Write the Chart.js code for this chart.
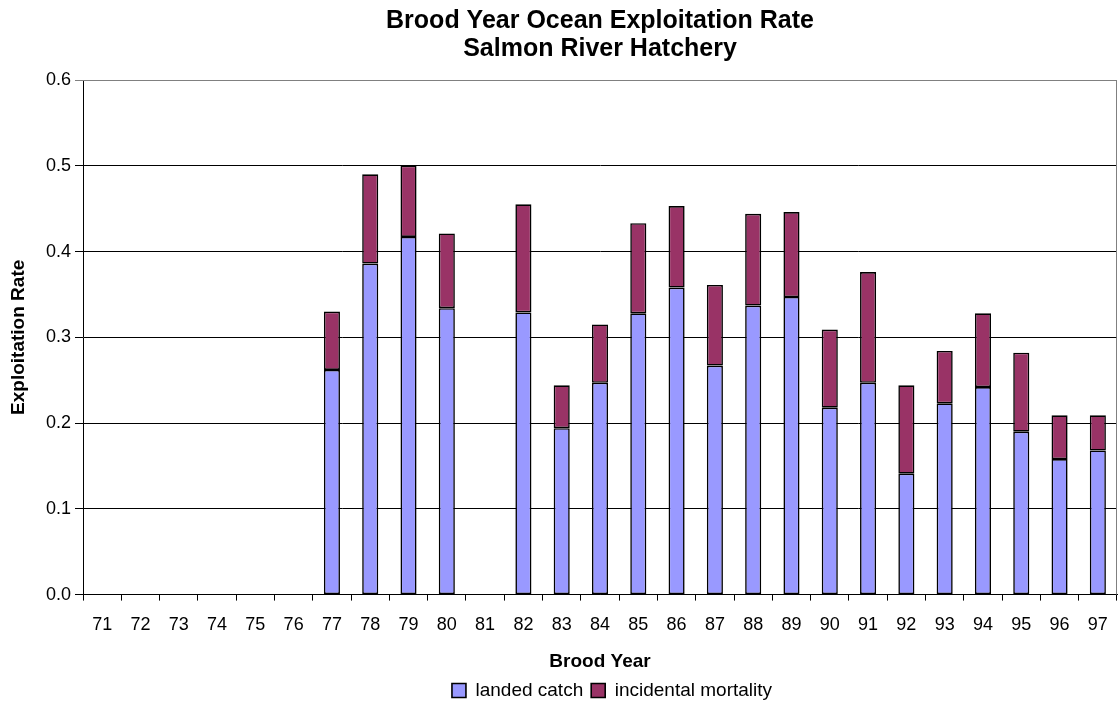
<!DOCTYPE html>
<html>
<head>
<meta charset="utf-8">
<script src="https://cdn.jsdelivr.net/npm/chart.js@4/dist/chart.umd.min.js"></script>
<style>
  html, body { margin: 0; padding: 0; background: #fff; }
  #wrap { width: 1118px; height: 704px; }
</style>
</head>
<body>
<div id="wrap"><canvas id="c" width="1118" height="704"></canvas></div>
<script>
const broodYears = ['71','72','73','74','75','76','77','78','79','80','81','82','83','84','85','86','87','88','89','90','91','92','93','94','95','96','97']
const landedCatch = [null,null,null,null,null,null,0.262,0.386,0.417,0.334,null,0.329,0.194,0.247,0.328,0.358,0.267,0.337,0.347,0.218,0.247,0.141,0.223,0.242,0.190,0.158,0.168]
const incidentalMortality = [null,null,null,null,null,null,0.068,0.104,0.083,0.087,null,0.126,0.050,0.068,0.105,0.095,0.094,0.107,0.099,0.091,0.129,0.103,0.061,0.086,0.092,0.051,0.041]
const yTicks = [0, 0.1, 0.2, 0.3, 0.4, 0.5, 0.6]

const FONT = "'Liberation Sans', Arial, sans-serif"

// grey frame on the right and top of the plot area, like the original
const frame = {
    id: 'frame',
    afterLayout(chart) {
        // legend sits a little right of centre in the original
        chart.legend.left += 12
        chart.legend.right += 12
    },
    afterDraw(chart) {
        const { ctx, chartArea } = chart
        ctx.save()
        ctx.strokeStyle = '#808080'
        ctx.lineWidth = 1
        ctx.beginPath()
        ctx.moveTo(chartArea.left, chartArea.top + 0.5)
        ctx.lineTo(chartArea.right - 0.5, chartArea.top + 0.5)
        ctx.lineTo(chartArea.right - 0.5, chartArea.bottom)
        ctx.stroke()
        ctx.restore()
    }
}

new Chart(document.getElementById('c'), {
    type: 'bar',
    data: {
        labels: broodYears,
        datasets: [
            {
                label: 'landed catch',
                data: landedCatch,
                backgroundColor: '#9999ff',
                borderColor: '#000000',
                borderWidth: 1.6,
                borderSkipped: false
            },
            {
                label: 'incidental mortality',
                data: incidentalMortality,
                backgroundColor: '#993366',
                borderColor: '#000000',
                borderWidth: 1.6,
                borderSkipped: false
            }
        ]
    },
    options: {
        responsive: false,
        animation: false,
        devicePixelRatio: 1,
        layout: { padding: { top: 7, right: 1, bottom: -6, left: 0 } },
        datasets: { bar: { categoryPercentage: 1, barPercentage: 0.42 } },
        scales: {
            x: {
                stacked: true,
                offset: true,
                afterFit(axis) { axis.paddingRight = 0 },
                grid: { offset: true, drawOnChartArea: false, color: '#000', tickLength: 6 },
                border: { color: '#000', width: 1 },
                ticks: { color: '#000', font: { family: FONT, size: 18 }, padding: 14, maxRotation: 0, autoSkip: false },
                title: { display: true, text: 'Brood Year', color: '#000', font: { family: FONT, size: 19, weight: 'bold' }, padding: { top: 0, bottom: 0 } }
            },
            y: {
                stacked: true,
                min: 0,
                max: 0.6,
                afterBuildTicks(axis) { axis.ticks = yTicks.map(v => ({ value: v })) },
                afterFit(axis) { axis.width = 83 },
                grid: {
                    color: ctx => (ctx.tick && ctx.tick.value === 0.6 ? '#808080' : '#000'),
                    tickLength: 8
                },
                border: { color: '#000', width: 1 },
                ticks: { color: '#000', font: { family: FONT, size: 18 }, padding: 4, callback: v => v.toFixed(1) },
                title: { display: true, text: 'Exploitation Rate', color: '#000', font: { family: FONT, size: 19, weight: 'bold' }, padding: { top: 7, bottom: 4 } }
            }
        },
        plugins: {
            title: {
                display: true,
                fullSize: false,
                text: ['Brood Year Ocean Exploitation Rate', 'Salmon River Hatchery'],
                color: '#000',
                font: { family: FONT, size: 25, weight: 'bold', lineHeight: 1.12 },
                padding: { top: 0, bottom: 17 }
            },
            legend: {
                position: 'bottom',
                fullSize: false,
                labels: {
                    color: '#000',
                    font: { family: FONT, size: 19, lineHeight: 1 },
                    boxWidth: 14,
                    boxHeight: 14,
                    padding: 8
                }
            },
            tooltip: { enabled: false }
        }
    },
    plugins: [frame]
})
</script>
</body>
</html>
